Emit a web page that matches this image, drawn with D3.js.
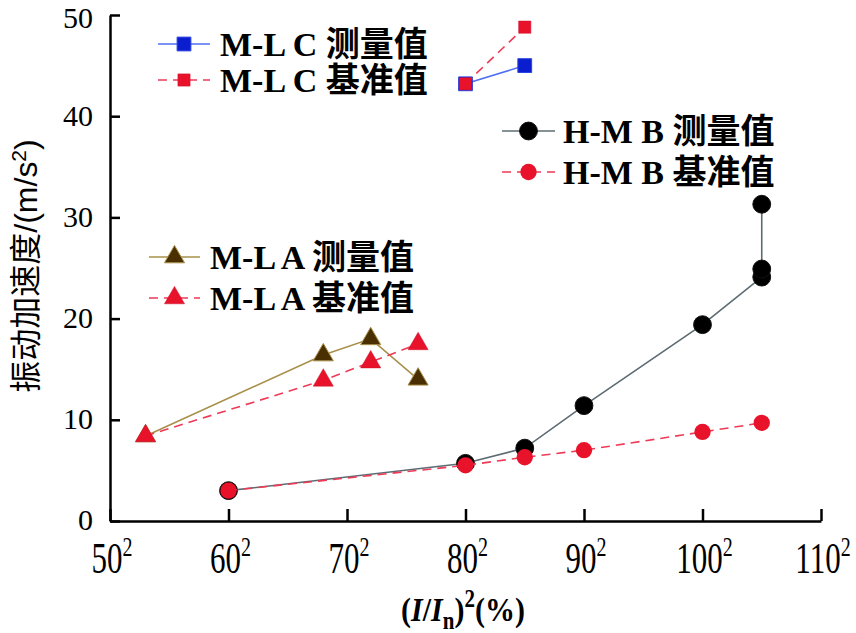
<!DOCTYPE html>
<html><head><meta charset="utf-8">
<script src="https://cdn.jsdelivr.net/npm/d3@7"></script>
<style>
html,body{margin:0;padding:0;background:#fff;}
svg{display:block;}
</style></head>
<body>
<svg id="chart" width="856" height="633"></svg>
<script>
// ---- data ----
const xTicks = [50, 60, 70, 80, 90, 100, 110];
const yTicks = [0, 10, 20, 30, 40, 50];

const mlcX = [80, 85];
const mlcMeasured = [43.2, 45.0];
const mlcReference = [43.2, 48.8];

const hmbX = [60, 80, 85, 90, 100, 105, 105, 105];
const hmbMeasured = [3.0, 5.7, 7.2, 11.4, 19.4, 24.1, 24.9, 31.3];
const hmbRefX = [60, 80, 85, 90, 100, 105];
const hmbReference = [3.0, 5.5, 6.3, 7.0, 8.8, 9.7];

const mlaX = [53, 68, 72, 76];
const mlaMeasured = [8.4, 16.4, 18.0, 14.0];
const mlaReference = [8.4, 13.9, 15.7, 17.5];

const legendLabels = ["M-L C 测量值", "M-L C 基准值", "H-M B 测量值", "H-M B 基准值", "M-L A 测量值", "M-L A 基准值"];

// ---- layout ----
const svg = d3.select("#chart");
const x = d3.scaleLinear().domain([50, 110]).range([110, 821]);
const y = d3.scaleLinear().domain([0, 50]).range([521, 15]);

const serif = "'Liberation Serif','Times New Roman','Noto Sans CJK SC',serif";
const sansCJK = "'Liberation Sans','Noto Sans CJK SC',sans-serif";

// axes
const xAxis = d3.axisBottom(x).tickValues(xTicks).tickSizeInner(-12).tickSizeOuter(0).tickFormat("");
const yAxis = d3.axisLeft(y).tickValues(yTicks).tickSizeInner(-10).tickSizeOuter(0).tickFormat("");
const gx = svg.append("g").attr("transform", `translate(0,${y(0)})`).call(xAxis);
const gy = svg.append("g").attr("transform", `translate(${x(50)},0)`).call(yAxis);
[gx, gy].forEach(g => {
  g.select(".domain").attr("stroke", "#000").attr("stroke-width", 2.5);
  g.selectAll(".tick line").attr("stroke", "#000").attr("stroke-width", 2.5);
});

// y tick labels
svg.append("g").selectAll("text").data(yTicks).join("text")
  .attr("x", 93).attr("y", d => Math.max(y(d), 19)).attr("dy", "0.31em")
  .attr("text-anchor", "end")
  .attr("font-family", serif).attr("font-size", 30)
  .text(d => d);

// x tick labels (with superscript 2)
const xl = svg.append("g").selectAll("g").data(xTicks).join("g")
  .attr("transform", d => `translate(${x(d) + 2},573) scale(1,1.4)`);
const xt = xl.append("text").attr("text-anchor", "middle")
  .attr("font-family", serif).attr("font-size", 31);
xt.append("tspan").text(d => d);
xt.append("tspan").attr("dy", -12).attr("font-size", 20).text("2");

// x title
const xtitle = svg.append("g").attr("transform", "translate(463,621) scale(1,1.15)")
  .append("text").attr("text-anchor", "middle")
  .attr("font-family", serif).attr("font-size", 30).attr("font-weight", "bold");
xtitle.append("tspan").text("(");
xtitle.append("tspan").attr("font-style", "italic").text("I");
xtitle.append("tspan").text("/");
xtitle.append("tspan").attr("font-style", "italic").text("I");
xtitle.append("tspan").attr("dy", 7).attr("font-size", 21).text("n");
xtitle.append("tspan").attr("dy", -7).text(")");
xtitle.append("tspan").attr("dy", -12).attr("font-size", 21).text("2");
xtitle.append("tspan").attr("dy", 12).text("(%)");

// y title
const ytitle = svg.append("text")
  .attr("transform", "translate(37,266) rotate(-90)")
  .attr("text-anchor", "middle")
  .attr("font-family", sansCJK).attr("font-size", 32);
ytitle.append("tspan").text("振动加速度/(m/s");
ytitle.append("tspan").attr("dy", -11).attr("font-size", 21).text("2");
ytitle.append("tspan").attr("dy", 11).text(")");

// ---- series ----
const RED = "#e8132b";
const REDLINE = "#ee3a56";
const line = d3.line().x(d => x(d[0])).y(d => y(d[1]));

function drawSeries(xs, ys, opts) {
  const pts = xs.map((v, i) => [v, ys[i]]);
  svg.append("path").datum(pts).attr("d", line)
    .attr("fill", "none").attr("stroke", opts.lineColor)
    .attr("stroke-width", opts.lineWidth || 1.6)
    .attr("stroke-dasharray", opts.dash || null);
  drawMarkers(pts, opts);
}
function markerPath(shape, size) {
  if (shape === "circle") return d3.symbol(d3.symbolCircle, size)();
  if (shape === "square") return d3.symbol(d3.symbolSquare, size)();
  return d3.symbol(d3.symbolTriangle, size)();
}
function drawMarkers(pts, opts) {
  svg.append("g").selectAll("path").data(pts).join("path")
    .attr("transform", d => `translate(${x(d[0])},${y(d[1])})`)
    .attr("d", markerPath(opts.shape, opts.size))
    .attr("fill", opts.fill).attr("stroke", opts.stroke || "none")
    .attr("stroke-width", opts.strokeWidth || 1);
}

const styles = [
  {shape: "square", size: 190, fill: "#0a1ecf", stroke: "#2a44e0", lineColor: "#4f6ff2", strokeWidth: 1},
  {shape: "square", size: 150, fill: RED, stroke: "#d01030", lineColor: REDLINE, dash: "9,6", strokeWidth: 0.5},
  {shape: "circle", size: 250, fill: "#000", stroke: "#111", lineColor: "#5c6c72", strokeWidth: 1},
  {shape: "circle", size: 210, fill: RED, stroke: "none", lineColor: REDLINE, dash: "9,6"},
  {shape: "triangle", size: 175, fill: "#4a3000", stroke: "#a8904a", lineColor: "#a8904a", strokeWidth: 1},
  {shape: "triangle", size: 175, fill: RED, stroke: "#c81028", lineColor: REDLINE, dash: "9,6", strokeWidth: 0.5}
];

drawSeries(hmbX, hmbMeasured, styles[2]);
drawSeries(hmbRefX, hmbReference, styles[3]);
drawSeries(mlaX, mlaMeasured, styles[4]);
drawSeries(mlaX, mlaReference, styles[5]);
drawSeries(mlcX, mlcMeasured, styles[0]);
drawSeries(mlcX, mlcReference, styles[1]);

// ---- legends ----
const legendPos = [
  {x0: 158, x1: 210, tx: 220, y: 44},
  {x0: 158, x1: 210, tx: 220, y: 80},
  {x0: 502, x1: 555, tx: 563, y: 131},
  {x0: 502, x1: 555, tx: 563, y: 172},
  {x0: 149, x1: 200, tx: 210, y: 257},
  {x0: 149, x1: 200, tx: 210, y: 298}
];
legendLabels.forEach((lab, i) => {
  const p = legendPos[i], s = styles[i];
  const g = svg.append("g");
  g.append("line").attr("x1", p.x0).attr("x2", p.x1).attr("y1", p.y).attr("y2", p.y)
    .attr("stroke", s.lineColor).attr("stroke-width", s.lineWidth || 1.6)
    .attr("stroke-dasharray", s.dash || null);
  g.append("path").attr("transform", `translate(${(p.x0 + p.x1) / 2},${p.y})`)
    .attr("d", markerPath(s.shape, s.size))
    .attr("fill", s.fill).attr("stroke", s.stroke || "none").attr("stroke-width", s.strokeWidth || 1);
  g.append("text").attr("x", p.tx).attr("y", p.y).attr("dy", "0.36em")
    .attr("font-family", serif).attr("font-size", 34).attr("font-weight", "bold")
    .text(lab);
});
</script>
</body></html>
